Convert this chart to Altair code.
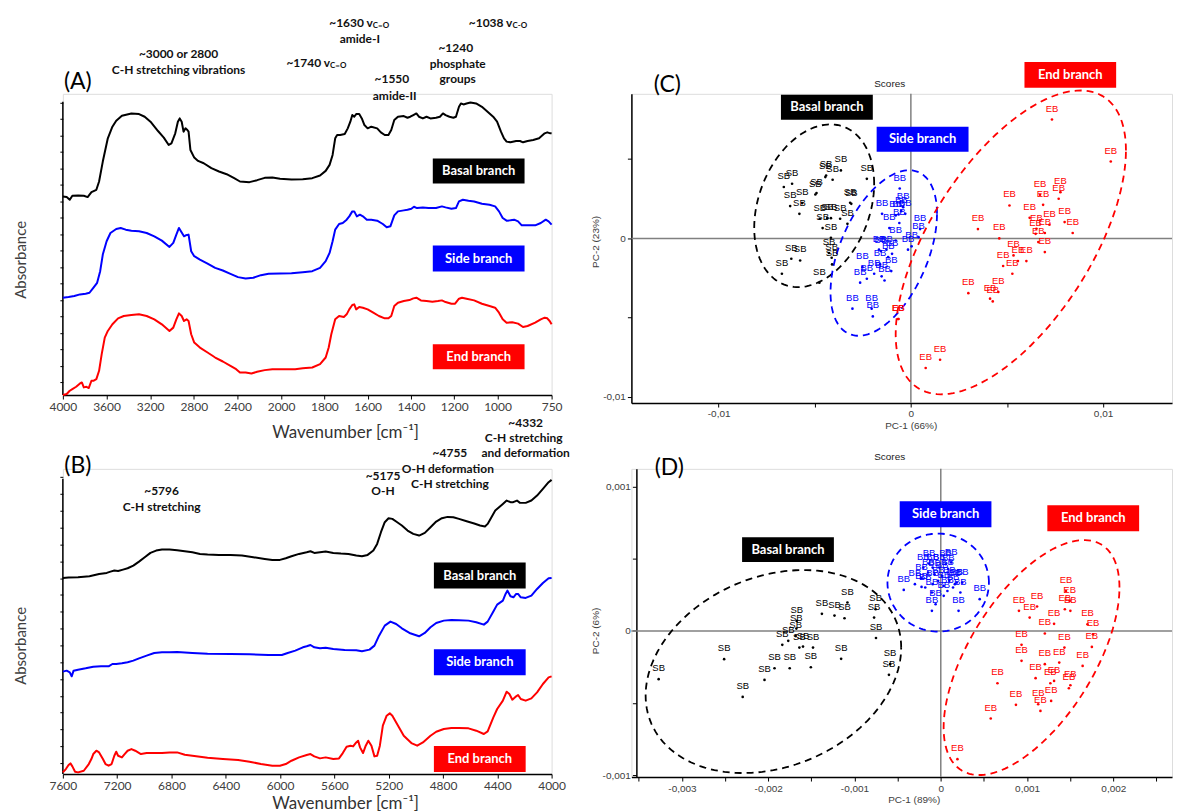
import altair as alt
import numpy as np
import pandas as pd

GROUPS = ["Basal branch", "Side branch", "End branch"]
COLORS = ["#000000", "#0000ff", "#ff0000"]
CAL = "Lato"
ARI = "Liberation Sans"
COLOR_SCALE = alt.Scale(domain=GROUPS, range=COLORS)

# ======================= Panel A : MIR spectra =======================
A_XTICKS = [4000, 3600, 3200, 2800, 2400, 2000, 1800, 1600, 1400, 1200, 1000, 750]
A_YTICKS = [39 + 49.5 * k for k in range(18)]

A_basal_wn = [4000,3965,3937,3913,3860,3808,3773,3738,3693,3668,3634,3588,3546,3511,3459,3372,3302,3250,3197,3128,3075,3030,3005,2970,2946,2929,2911,2894,2876,2859,2848,2831,2796,2761,2709,2639,2569,2499,2430,2377,2290,2220,2150,2080,2010,1952,1900,1856,1820,1794,1776,1762,1750,1741,1727,1706,1692,1680,1671,1662,1653,1639,1627,1615,1600,1583,1556,1539,1521,1504,1491,1477,1460,1433,1416,1403,1389,1375,1363,1345,1328,1310,1284,1266,1252,1240,1222,1204,1192,1178,1169,1157,1143,1125,1099,1072,1046,1020,1002,984,970,958,940,914,896,882,861,835,808,782,770,756,750]
A_basal_ab = [598,596,588,600,601,600,596,611,618,643,703,773,808,826,841,848,846,838,823,795,775,753,758,788,823,833,823,793,803,798,793,738,715,705,698,683,673,665,653,643,641,647,654,655,651,649,650,653,661,675,693,723,773,783,783,786,803,823,843,838,846,846,833,813,803,808,803,791,783,783,798,828,838,840,835,838,843,848,838,833,838,833,835,838,848,843,838,835,838,868,878,875,878,881,878,868,853,838,823,793,773,763,761,765,765,761,765,768,773,788,791,788,788]

A_side_wn = [4000,3948,3895,3843,3791,3756,3721,3686,3658,3634,3599,3564,3511,3470,3424,3372,3302,3232,3162,3093,3023,2988,2960,2936,2918,2890,2873,2848,2824,2796,2744,2674,2604,2534,2464,2395,2325,2255,2185,2115,2010,1952,1900,1856,1820,1794,1776,1762,1750,1732,1715,1697,1685,1671,1662,1650,1636,1622,1604,1583,1556,1530,1512,1495,1477,1460,1433,1416,1398,1386,1372,1345,1319,1284,1257,1240,1213,1192,1178,1160,1134,1108,1072,1037,1011,993,976,958,940,923,905,888,861,826,800,777,764,750]
A_side_ab = [293,295,298,303,305,308,323,338,373,423,463,488,500,503,498,495,493,488,478,465,446,458,483,503,493,478,481,483,433,418,408,396,383,375,365,355,351,353,361,365,366,367,370,373,383,403,428,463,498,515,518,528,538,553,553,538,543,538,528,528,525,515,505,508,541,553,556,558,561,567,563,565,563,563,568,565,561,563,583,588,585,583,576,573,568,553,533,525,526,528,523,511,511,511,518,528,523,513]

A_end_wn = [4000,3965,3937,3913,3878,3843,3826,3808,3784,3763,3738,3721,3693,3668,3644,3616,3588,3546,3494,3442,3372,3302,3232,3162,3093,3023,2988,2960,2936,2911,2890,2866,2848,2824,2796,2744,2674,2604,2534,2464,2412,2377,2325,2272,2220,2150,2080,1988,1935,1900,1856,1820,1794,1780,1768,1750,1732,1710,1697,1685,1671,1662,1653,1639,1622,1600,1574,1548,1521,1504,1491,1477,1460,1433,1407,1389,1375,1354,1328,1301,1275,1257,1240,1213,1196,1178,1164,1143,1108,1072,1037,1011,993,976,958,932,905,882,861,826,800,782,770,759,750]
A_end_ab = [0,3,13,18,25,35,38,23,25,21,43,43,48,73,123,173,193,213,231,238,241,243,238,228,213,193,203,228,246,238,223,228,223,183,158,143,128,113,101,88,78,68,68,65,70,75,78,78,78,81,83,93,113,143,183,228,238,235,243,258,271,273,258,265,263,258,248,238,231,231,238,268,278,283,286,291,293,285,283,281,283,285,280,275,275,290,293,290,285,275,268,263,248,228,218,219,215,205,208,218,228,233,231,223,213]

A_BOX_X = [1299, 875]
A_BOX_Y = {"Basal branch": [637, 712], "Side branch": [372, 450], "End branch": [78, 153]}

A_TXT = ["~3000 or 2800", "C-H stretching  vibrations", "amide-I", "~1550", "amide-II", "~1240", "phosphate", "groups"]
A_TXT_X = [2940, 2940, 1636, 1488, 1475, 1193, 1184, 1184]
A_TXT_Y = [1027, 979, 1072, 952, 901, 1045, 997, 952]
A_NU = ["~1630 v", "~1740 v", "~1038 v"]
A_SUB = ["C=O", "C=O", "C-O"]
A_NU_X = [1576, 1774, 931]
A_NU_Y = [1120, 1000, 1120]

# ======================= Panel B : NIR spectra =======================
B_XTICKS = [7600, 7200, 6800, 6400, 6000, 5600, 5200, 4800, 4400, 4000]
B_YTICKS = [33 + 50.4 * k for k in range(18)]

B_basal_wn = [7600,7558,7488,7404,7333,7277,7249,7221,7193,7157,7123,7081,7039,6997,6955,6913,6870,6814,6758,6702,6646,6590,6534,6450,6365,6281,6197,6113,6057,6001,5958,5916,5860,5804,5776,5748,5706,5664,5608,5552,5496,5439,5397,5355,5313,5285,5257,5229,5201,5173,5145,5103,5061,5019,4976,4934,4892,4850,4808,4766,4724,4682,4626,4570,4527,4491,4471,4443,4415,4387,4359,4331,4303,4283,4255,4233,4191,4149,4107,4064,4022,4000]
B_basal_ab = [588,589,590,593,600,603,607,610,609,613,617,625,637,650,663,670,673,673,671,668,665,660,658,657,657,655,650,645,642,642,647,653,660,665,668,663,665,667,663,661,660,655,653,657,670,690,725,755,767,765,757,745,730,720,715,723,740,757,767,771,770,765,758,751,745,742,750,770,790,800,810,820,815,815,820,813,813,820,835,855,875,882]

B_side_wn = [7600,7572,7549,7535,7521,7488,7432,7376,7319,7263,7235,7207,7165,7123,7081,7039,6983,6927,6870,6814,6758,6646,6534,6365,6225,6085,5987,5944,5888,5832,5804,5776,5748,5706,5664,5608,5524,5439,5397,5341,5305,5271,5229,5187,5145,5103,5047,4976,4934,4892,4850,4794,4738,4682,4612,4555,4499,4471,4429,4401,4359,4339,4325,4303,4281,4261,4247,4227,4191,4149,4107,4064,4022,4000]
B_side_ab = [307,310,305,293,310,313,317,322,323,323,330,330,332,335,340,347,355,363,365,365,366,363,361,360,359,357,357,363,370,380,383,387,380,377,379,375,372,371,368,373,385,415,445,457,450,437,423,413,423,440,453,460,462,461,460,455,448,457,487,508,520,540,550,533,530,540,540,530,528,535,555,573,587,588]

B_end_wn = [7600,7578,7558,7544,7530,7510,7488,7446,7409,7390,7376,7353,7333,7305,7286,7263,7241,7221,7207,7193,7165,7145,7123,7095,7067,7025,6983,6927,6870,6814,6758,6702,6646,6534,6421,6309,6225,6141,6057,6001,5958,5916,5860,5804,5776,5748,5706,5664,5608,5566,5538,5510,5481,5462,5439,5425,5411,5389,5369,5350,5327,5305,5285,5265,5243,5215,5192,5173,5131,5089,5033,4990,4948,4892,4850,4794,4738,4682,4612,4555,4499,4471,4429,4401,4359,4331,4311,4289,4261,4247,4227,4191,4149,4107,4064,4022,4000]
B_end_ab = [5,15,27,32,23,7,5,10,30,45,60,70,65,45,30,25,30,55,67,55,50,60,70,75,70,60,63,63,63,65,65,58,55,49,45,42,37,30,25,25,30,40,50,57,60,53,47,50,45,47,63,82,85,83,95,100,80,63,85,100,85,53,55,85,145,175,182,175,145,115,93,85,95,115,127,135,138,138,137,130,120,128,170,195,220,247,240,223,233,237,225,220,227,245,270,290,293]

B_BOX_X = [4867, 4191]
B_BOX_Y = {"Basal branch": [556, 634], "Side branch": [296, 374], "End branch": [6, 84]}

B_TXT = ["~4332", "C-H stretching", "and deformation", "~4755", "O-H deformation", "C-H stretching", "~5175", "O-H", "~5796", "C-H stretching"]
B_TXT_X = [4191, 4206, 4191, 4749, 4764, 4749, 5242, 5242, 6873, 6873]
B_TXT_Y = [1052, 1008, 963, 963, 915, 870, 894, 849, 849, 801]

# ======================= Panel C : PCA scores (MIR), values x 1e-3 =======================
C_SB_X = [-6.61,-6.18,-4.41,-3.64,-4.45,-4.07,-2.29,-4.97,-4.91,-5.65,-3.16,-3.10,-6.28,-5.80,-4.74,-4.35,-4.16,-3.68,-3.30,-4.59,-4.16,-4.26,-4.12,-4.10,-6.22,-5.76,-6.71,-4.76]
C_SB_Y = [3.24,3.45,3.97,4.29,3.87,3.70,3.76,2.77,2.86,2.23,2.25,2.18,2.04,1.55,1.24,1.28,1.28,1.24,0.92,0.65,0.04,-0.92,-1.22,-1.64,-1.28,-1.39,-2.23,-2.79]
C_BB_X = [-0.58,-1.50,-0.29,-0.50,-0.64,-0.79,-1.12,0.48,0.40,-0.79,-1.66,-1.27,-0.15,0.04,-1.56,-2.52,-1.91,-1.52,-1.02,-2.29,-1.37,-2.64,-3.04,-2.04,-1.98,-0.40,-0.60,-1.18,-1.60,-0.98]
C_BB_Y = [3.15,1.55,1.55,1.72,1.51,1.45,0.65,0.59,0.08,-0.13,-0.71,-0.71,-0.71,-0.50,-0.80,-1.81,-2.23,-2.39,-2.06,-2.54,-2.65,-2.79,-4.43,-4.43,-4.92,1.97,0.97,-1.18,-1.64,-0.97]
C_EB_X = [7.34,10.40,6.72,7.78,7.69,6.88,5.13,6.18,7.21,8.00,6.53,6.49,6.97,6.63,8.42,3.49,4.60,6.97,5.34,5.57,6.01,4.80,5.28,2.99,4.55,4.12,4.26,-0.67,-0.64,0.77,1.52]
C_EB_Y = [7.50,4.85,2.75,2.92,2.50,2.12,2.08,1.30,0.86,1.03,0.61,0.29,0.34,-0.23,0.34,0.59,0.00,-0.86,-1.07,-1.43,-1.43,-1.74,-2.23,-3.45,-3.38,-3.80,-3.97,-5.08,-5.08,-8.17,-7.65]
# ellipse: centre x, centre y, half-width, rise of right-most point, half-height  (x 1e-3)
C_ELL = [[-5.03, 2.06, 3.12, 1.39, 5.13], [-1.41, -0.92, 2.77, 2.48, 5.22], [5.20, -0.25, 5.99, 5.80, 9.58]]
C_BOX = {"Basal branch": [-6.76, -1.98, 7.48, 9.06], "Side branch": [-1.78, 3.00, 5.47, 7.04], "End branch": [5.91, 10.68, 9.50, 11.13]}

# ======================= Panel D : PCA scores (NIR), values x 1e-4 =======================
D_SB_X = [-32.70,-25.11,-22.96,-20.43,-19.27,-17.51,-18.37,-16.74,-16.70,-16.39,-15.97,-14.81,-15.06,-13.78,-12.32,-11.16,-10.82,-11.55,-7.55,-7.73,-7.51,-5.88,-6.01,-17.68,-16.82]
D_SB_Y = [-3.35,-1.96,-4.58,-3.40,-2.59,-2.59,-0.97,0.16,0.69,-1.16,-1.09,-1.16,-2.52,1.18,1.06,0.88,1.97,-1.94,1.50,0.92,-0.49,-2.31,-3.05,-0.69,-0.35]
D_BB_X = [-1.37,-4.29,-3.00,-2.23,-1.03,-0.60,-1.03,0.34,0.77,2.06,2.27,4.51,-2.23,-2.02,-0.94,0.56,1.20,0.77,0.13,-0.30,0.99,1.63,-0.73,-1.46,0.34,1.42,-1.80,-0.94,-0.17,0.86,1.85,2.49]
D_BB_Y = [4.67,2.84,3.24,3.05,2.66,1.85,1.39,2.43,2.77,1.39,2.66,2.20,3.65,4.39,4.39,4.62,4.74,4.05,3.82,3.47,3.47,3.24,3.93,4.05,3.12,3.01,3.01,3.24,4.39,4.28,3.35,3.35]
D_EB_X = [14.51,14.94,14.38,15.02,9.06,11.16,10.30,13.13,12.06,17.00,17.64,9.36,14.33,17.51,9.36,12.06,13.73,16.44,10.99,12.70,13.13,15.02,14.85,6.57,8.71,11.29,12.79,11.55,5.79,1.93]
D_EB_Y = [2.77,2.08,1.50,1.39,1.39,1.69,0.92,0.49,-0.18,0.46,-0.23,-0.97,-1.16,-1.11,-2.08,-2.31,-2.20,-2.43,-3.28,-3.63,-3.47,-3.77,-3.98,-3.63,-5.13,-5.09,-4.86,-5.55,-6.08,-8.90]
D_ELL = [[-19.40, -2.82, 14.81, 1.66, 7.04], [-0.30, 3.35, 5.88, 0.0, 3.40], [10.52, -1.85, 10.19, 4.86, 8.15]]
D_BOX = {"Basal branch": [-23.03, -12.39, 4.78, 6.50], "Side branch": [-4.76, 5.87, 7.19, 8.99], "End branch": [12.35, 22.99, 6.92, 8.71]}

SCORE_LABELS = ["SB", "BB", "EB"]

# ----------------------------------------------------------------------------------------
COLOR = alt.Color("g:N", scale=COLOR_SCALE, legend=None)


def spectra_frame(wns, abss):
    return pd.concat([pd.DataFrame({"x": w, "y": a, "g": g, "i": range(len(w))})
                      for g, w, a in zip(GROUPS, wns, abss)], ignore_index=True)


def box_frames(bx, by):
    rect = pd.DataFrame({"x": [bx[0]] * 3, "x2": [bx[1]] * 3,
                         "y": [by[g][0] for g in GROUPS], "y2": [by[g][1] for g in GROUPS], "g": GROUPS})
    lab = pd.DataFrame({"x": [(bx[0] + bx[1]) / 2] * 3,
                        "y": [(by[g][0] + by[g][1]) / 2 for g in GROUPS], "t": GROUPS})
    return rect, lab


def spectra_panel(df, x, y, rule_df, boxes, txt_df, nu_df, letter_df, w, h):
    lines = alt.Chart(df).mark_line(strokeWidth=2, strokeJoin="round").encode(x=x, y=y, color=COLOR, order="i:Q")
    rule = alt.Chart(rule_df).mark_rule(color="black", strokeWidth=1.5).encode(x=x, y=y, y2="y2:Q")
    rect = alt.Chart(boxes[0]).mark_rect().encode(x=x, x2="x2:Q", y=y, y2="y2:Q", color=COLOR)
    btxt = alt.Chart(boxes[1]).mark_text(font=CAL, fontWeight="bold", fontSize=13, color="white").encode(
        x=x, y=y, text="t:N")
    ann = alt.Chart(txt_df).mark_text(font=CAL, fontWeight="bold", fontSize=12, color="#111111").encode(
        x=x, y=y, text="t:N")
    layers = [rule, lines, rect, btxt, ann]
    if nu_df is not None:
        nu = alt.Chart(nu_df).mark_text(font=CAL, fontWeight="bold", fontSize=12, align="right",
                                        color="#111111").encode(x=x, y=y, text="t:N")
        sub = alt.Chart(nu_df).mark_text(font=CAL, fontWeight="bold", fontSize=8, align="left", dy=3,
                                         color="#111111").encode(x=x, y=y, text="s:N")
        layers += [nu, sub]
    letter = alt.Chart(letter_df).mark_text(font=CAL, fontSize=23, color="black").encode(x=x, y=y, text="t:N")
    layers.append(letter)
    return alt.layer(*layers).properties(width=w, height=h)


def spec_x_axis(values, title_y):
    return alt.Axis(values=values, format="d", title="Wavenumber [cm\u207b\u00b9]", labelFont=CAL,
                    labelFontSize=12, labelColor="#404040", labelPadding=2, labelOverlap=False, labelFlush=False,
                    tickSize=4, tickColor="black", domainColor="black", domainWidth=1.5, grid=False,
                    titleFont=CAL, titleFontSize=17, titleFontWeight="normal", titleColor="#333333",
                    titleX=283, titleY=title_y, titleBaseline="middle", titleAlign="center")


def spec_y_axis(values, title_y):
    return alt.Axis(values=values, labels=False, domain=False, tickSize=3, tickColor="black", grid=False,
                    title="Absorbance", titleFont=CAL, titleFontSize=15, titleFontWeight="normal",
                    titleColor="#404040", titleX=-42, titleY=title_y, titleAngle=270,
                    titleBaseline="middle", titleAlign="center")


# ---- Panel A
dfA = spectra_frame([A_basal_wn, A_side_wn, A_end_wn], [A_basal_ab, A_side_ab, A_end_ab])
xA = alt.X("x:Q", scale=alt.Scale(domain=[4000, 2000, 750], range=[0, 218.8, 490], zero=False, nice=False),
           axis=spec_x_axis(A_XTICKS, 38))
yA = alt.Y("y:Q", scale=alt.Scale(domain=[0, 907], zero=False, nice=False), axis=spec_y_axis(A_YTICKS, 166))
txtA = pd.DataFrame({"x": A_TXT_X, "y": A_TXT_Y, "t": A_TXT})
nuA = pd.DataFrame({"x": A_NU_X, "y": A_NU_Y, "t": A_NU, "s": A_SUB})
panelA = spectra_panel(dfA, xA, yA, pd.DataFrame({"x": [4000], "y": [0], "y2": [883]}),
                       box_frames(A_BOX_X, A_BOX_Y), txtA, nuA,
                       pd.DataFrame({"x": [3863], "y": [943], "t": ["(A)"]}), 490, 302)

# ---- Panel B
dfB = spectra_frame([B_basal_wn, B_side_wn, B_end_wn], [B_basal_ab, B_side_ab, B_end_ab])
xB = alt.X("x:Q", scale=alt.Scale(domain=[7600, 4000], zero=False, nice=False), axis=spec_x_axis(B_XTICKS, 30))
yB = alt.Y("y:Q", scale=alt.Scale(domain=[0, 915], zero=False, nice=False), axis=spec_y_axis(B_YTICKS, 177))
txtB = pd.DataFrame({"x": B_TXT_X, "y": B_TXT_Y, "t": B_TXT})
panelB = spectra_panel(dfB, xB, yB, pd.DataFrame({"x": [7600], "y": [0], "y2": [885]}),
                       box_frames(B_BOX_X, B_BOX_Y), txtB, None,
                       pd.DataFrame({"x": [7490], "y": [924], "t": ["(B)"]}), 490, 306)


# ---- Score panels
def score_frame(xs, ys, unit):
    return pd.concat([pd.DataFrame({"x": np.array(xv) * unit, "y": np.array(yv) * unit, "g": g, "lab": lab})
                      for g, xv, yv, lab in zip(GROUPS, xs, ys, SCORE_LABELS)], ignore_index=True)


def ellipse_frame(params, unit):
    t = np.linspace(0, 2 * np.pi, 145)
    frames = []
    for g, (cx, cy, rx, dyr, ty) in zip(GROUPS, params):
        hh = np.sqrt(ty ** 2 - dyr ** 2)
        frames.append(pd.DataFrame({"x": (cx + rx * np.cos(t)) * unit,
                                    "y": (cy + dyr * np.cos(t) + hh * np.sin(t)) * unit,
                                    "g": g, "i": range(len(t))}))
    return pd.concat(frames, ignore_index=True)


def score_box_frames(boxes, unit):
    rect = pd.DataFrame({"x": [boxes[g][0] * unit for g in GROUPS], "x2": [boxes[g][1] * unit for g in GROUPS],
                         "y": [boxes[g][2] * unit for g in GROUPS], "y2": [boxes[g][3] * unit for g in GROUPS],
                         "g": GROUPS})
    lab = pd.DataFrame({"x": [(boxes[g][0] + boxes[g][1]) / 2 * unit for g in GROUPS],
                        "y": [(boxes[g][2] + boxes[g][3]) / 2 * unit for g in GROUPS], "t": GROUPS})
    return rect, lab


def lbl_expr(mult):
    return ("abs(round(datum.value*%d)) %% 2 == 0 ? (datum.value < 0 ? '-' : '') + "
            "replace(format(abs(datum.value), '~g'), '.', ',') : ''" % mult)


def score_axis(values, mult, title, tx, ty, angle=0, offset=0):
    kw = dict(values=values, labelExpr=lbl_expr(mult), title=title, labelFont=ARI, labelFontSize=10,
              labelColor="#404040", labelPadding=2, labelOverlap=False, labelFlush=False, tickSize=4,
              tickColor="black", domainColor="black", domainWidth=1.5, grid=False, titleFont=ARI,
              titleFontSize=10, titleFontWeight="normal", titleColor="#404040", titleX=tx, titleY=ty,
              titleBaseline="middle", titleAlign="center")
    if angle:
        kw["titleAngle"] = angle
    if offset:
        kw["offset"] = offset
    return alt.Axis(**kw)


def score_panel(sdf, edf, boxes, x, y, scores_xy, letter, letter_xy, w, h):
    hz = alt.Chart(pd.DataFrame({"y": [0.0]})).mark_rule(color="#808080", strokeWidth=1.5).encode(y=y)
    vt = alt.Chart(pd.DataFrame({"x": [0.0]})).mark_rule(color="#808080", strokeWidth=1.5).encode(x=x)
    ell = alt.Chart(edf).mark_line(strokeDash=[7, 5], strokeWidth=1.8).encode(
        x=x, y=y, color=COLOR, order="i:Q", detail="g:N")
    pts = alt.Chart(sdf).mark_circle(size=7, opacity=1).encode(x=x, y=y, color=COLOR)
    labs = alt.Chart(sdf).mark_text(font=ARI, fontSize=9.5, dy=-11).encode(x=x, y=y, text="lab:N", color=COLOR)
    rect = alt.Chart(boxes[0]).mark_rect().encode(x=x, x2="x2:Q", y=y, y2="y2:Q", color=COLOR)
    btxt = alt.Chart(boxes[1]).mark_text(font=CAL, fontWeight="bold", fontSize=13, color="white").encode(
        x=x, y=y, text="t:N")
    ttl = alt.Chart(pd.DataFrame({"x": [scores_xy[0]], "y": [scores_xy[1]], "t": ["Scores"]})).mark_text(
        font=ARI, fontSize=10, color="#222222").encode(x=x, y=y, text="t:N")
    let = alt.Chart(pd.DataFrame({"x": [letter_xy[0]], "y": [letter_xy[1]], "t": [letter]})).mark_text(
        font=CAL, fontSize=23, color="black").encode(x=x, y=y, text="t:N")
    return alt.layer(hz, vt, ell, pts, labs, rect, btxt, ttl, let).properties(width=w, height=h)


xC = alt.X("x:Q", scale=alt.Scale(domain=[-0.01454, 0.013586], zero=False, nice=False),
           axis=score_axis([-0.01, -0.005, 0, 0.005, 0.01], 200, "PC-1 (66%)", 280, 23))
yC = alt.Y("y:Q", scale=alt.Scale(domain=[-0.01038, 0.00912], zero=False, nice=False),
           axis=score_axis([-0.01, -0.005, 0, 0.005], 200, "PC-2 (23%)", -36, 148, 270))
panelC = score_panel(score_frame([C_SB_X, C_BB_X, C_EB_X], [C_SB_Y, C_BB_Y, C_EB_Y], 1e-3),
                     ellipse_frame(C_ELL, 1e-3), score_box_frames(C_BOX, 1e-3), xC, yC,
                     (-0.00110, 0.00975), "(C)", (-0.01267, 0.00969), 542, 310)

# panel D shares the column with C, so its plot starts 5 px further left; the y axis is shifted back in
xD = alt.X("x:Q", scale=alt.Scale(domain=[-0.003586, 0.00268], zero=False, nice=False),
           axis=score_axis([-0.0035, -0.003, -0.0025, -0.002, -0.0015, -0.001, -0.0005, 0, 0.0005, 0.001,
                            0.0015, 0.002, 0.0025], 2000, "PC-1 (89%)", 283, 23))
yD = alt.Y("y:Q", scale=alt.Scale(domain=[-0.001014, 0.001124], zero=False, nice=False),
           axis=score_axis([-0.001, -0.0005, 0, 0.0005, 0.001], 2000, "PC-2 (6%)", -41, 162, 270, offset=-5))
panelD = score_panel(score_frame([D_SB_X, D_BB_X, D_EB_X], [D_SB_Y, D_BB_Y, D_EB_Y], 1e-4),
                     ellipse_frame(D_ELL, 1e-4), score_box_frames(D_BOX, 1e-4), xD, yD,
                     (-0.000592, 0.001209), "(D)", (-0.003147, 0.001133), 542, 309)

chart = alt.concat(panelA, panelC, panelB, panelD, columns=2,
                   spacing=alt.RowColnumber(row=66, column=80), bounds="flush", align="each").properties(
    padding={"left": 5, "top": 7, "right": 0, "bottom": 0}
).configure_view(stroke=None).configure(background="white")

chart.save("out.html", embed_options={"renderer": "svg", "actions": False})
